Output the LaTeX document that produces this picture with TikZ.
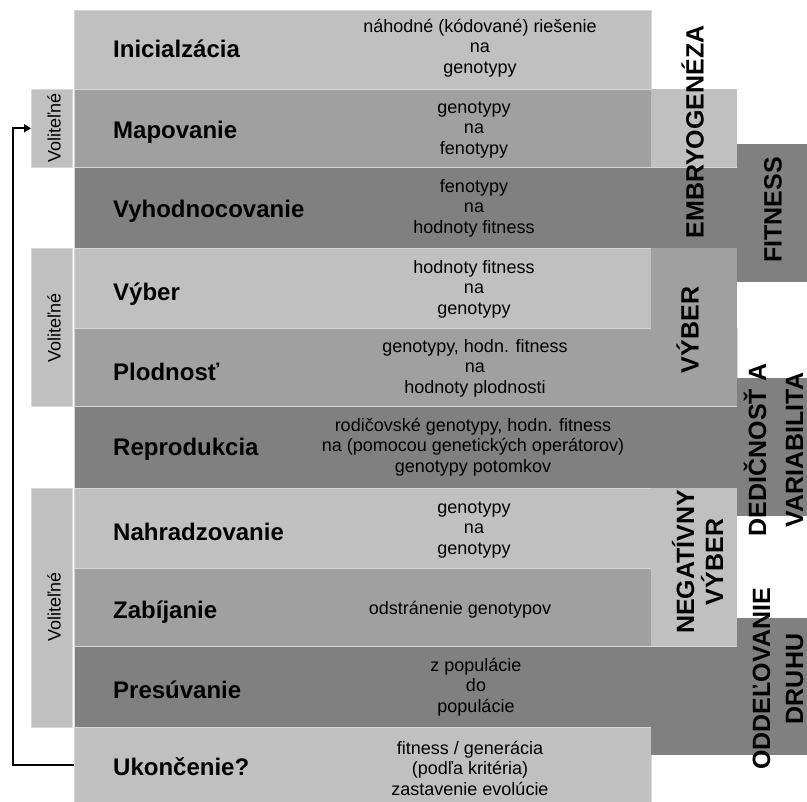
\documentclass[tikz,border=0pt]{standalone}
\usepackage{fontspec}
\setmainfont{Liberation Sans}
\usetikzlibrary{arrows.meta}
\definecolor{RowLight}{HTML}{C0C0C0}
\definecolor{RowMid}{HTML}{A0A0A0}
\definecolor{RowDark}{HTML}{808080}
\definecolor{RowEdge}{HTML}{D8D8D8}

\begin{document}
\begin{tikzpicture}[x=1pt, y=-1pt,
    band/.style={rectangle, anchor=north west, inner sep=0pt,
                 draw=RowEdge, line width=0.6pt},
    shortband/.style={band, minimum width=577pt},
    longband/.style={band, minimum width=663pt},
    colbox/.style={rectangle, anchor=north west, inner sep=0pt,
                   minimum width=86pt},
    sidebox/.style={rectangle, anchor=north west, inner sep=0pt,
                    fill=RowDark, minimum width=70pt},
    optbox/.style={rectangle, anchor=north west, inner sep=0pt, fill=RowLight,
                   draw=RowEdge, line width=0.6pt, minimum width=41pt},
    steplabel/.style={anchor=west, inner sep=0pt, text height=17pt, text depth=0pt,
                      font=\fontsize{24}{27}\selectfont\bfseries},
    desc/.style={align=center, inner sep=0pt, font=\fontsize{18}{20.5}\selectfont},
    optlabel/.style={rotate=90, inner sep=0pt, text height=13pt, text depth=0pt,
                     font=\fontsize{18}{20}\selectfont},
    grouplabel/.style={rotate=90, align=center, inner sep=0pt, text height=17pt,
                       text depth=0pt, font=\fontsize{25}{29}\selectfont\bfseries},
    grouplabeltwo/.style={rotate=90, align=center, inner sep=0pt},
    loop/.style={-{Triangle[length=7pt,width=8pt]}, line width=2.2pt}
  ]
    \useasboundingbox (0,0) rectangle (807,802);

    % rows
    \node[shortband, fill=RowLight, minimum height=79pt] (ini) at (74,10) {};
    \node[shortband, fill=RowMid, minimum height=78pt] (map) at (74,89) {};
    \node[longband, fill=RowDark, minimum height=81pt] (vyh) at (74,167) {};
    \node[shortband, fill=RowLight, minimum height=80pt] (vyb) at (74,248) {};
    \node[longband, fill=RowMid, minimum height=78pt] (plod) at (74,328) {};
    \node[longband, fill=RowDark, minimum height=82pt] (rep) at (74,406) {};
    \node[shortband, fill=RowLight, minimum height=80pt] (nah) at (74,488) {};
    \node[shortband, fill=RowMid, minimum height=78pt] (zab) at (74,568) {};
    \node[longband, fill=RowDark, minimum height=81pt] (pres) at (74,646) {};
    \node[shortband, fill=RowLight, minimum height=75pt] (ukon) at (74,727) {};

    % group columns
    \node[colbox, fill=RowLight, minimum height=78pt] (embryoBox) at (651,89) {};
    \node[colbox, fill=RowMid, minimum height=158pt] (vyberBox) at (651,248) {};
    \node[colbox, fill=RowLight, minimum height=158pt] (negBox) at (651,488) {};
    \node[sidebox, minimum width=156pt, minimum height=28pt] (presExt) at (651,727) {};
    \node[sidebox, minimum height=138pt] (fitBox) at (737,144) {};
    \node[sidebox, minimum height=138pt] (dedBox) at (737,378) {};
    \node[sidebox, minimum height=137pt] (oddBox) at (737,618) {};

    % optional blocks
    \node[optbox, minimum height=78pt] (opt1) at (31,89) {};
    \node[optbox, minimum height=158pt] (opt2) at (31,248) {};
    \node[optbox, minimum height=239pt] (opt3) at (31,488) {};
    \node[optlabel] (opt1L) at (54,128) {Voliteľné};
    \node[optlabel] (opt2L) at (54,328) {Voliteľné};
    \node[optlabel] (opt3L) at (54,607) {Voliteľné};

    % step names
    \node[steplabel] (iniL) at (113,49) {Inicialzácia};
    \node[steplabel] (mapL) at (113,130) {Mapovanie};
    \node[steplabel] (vyhL) at (113,209) {Vyhodnocovanie};
    \node[steplabel] (vybL) at (113,292) {Výber};
    \node[steplabel] (plodL) at (113,372) {Plodnosť};
    \node[steplabel] (repL) at (113,447) {Reprodukcia};
    \node[steplabel] (nahL) at (113,532) {Nahradzovanie};
    \node[steplabel] (zabL) at (113,610) {Zabíjanie};
    \node[steplabel] (presL) at (113,690) {Presúvanie};
    \node[steplabel] (ukonL) at (113,767) {Ukončenie?};

    % what each step maps
    \node[desc] (iniD) at (480,48) {náhodné (kódované) riešenie\\na\\genotypy};
    \node[desc] (mapD) at (474,130) {genotypy\\na\\fenotypy};
    \node[desc] (vyhD) at (474,208) {fenotypy\\na\\hodnoty fitness};
    \node[desc] (vybD) at (474,289) {hodnoty fitness\\na\\genotypy};
    \node[desc] (plodD) at (475,368) {genotypy, hodn. fitness\\na\\hodnoty plodnosti};
    \node[desc] (repD) at (473,447) {rodičovské genotypy, hodn. fitness\\na (pomocou genetických operátorov)\\genotypy potomkov};
    \node[desc] (nahD) at (474,530) {genotypy\\na\\genotypy};
    \node[desc] (zabD) at (460,610) {odstránenie genotypov};
    \node[desc] (presD) at (476,687) {z populácie\\do\\populácie};
    \node[desc] (ukonD) at (470,768) {fitness / generácia\\(podľa kritéria)\\zastavenie evolúcie};

    % group names
    \node[grouplabel] (embryoL) at (695,132) {EMBRYOGENÉZA};
    \node[grouplabel] (fitL) at (773,210) {FITNESS};
    \node[grouplabel] (vyberL) at (690,330) {VÝBER};
    \node[grouplabeltwo, font=\fontsize{25}{37}\selectfont\bfseries] (dedL) at (773.5,450) {DEDIČNOSŤ A\\VARIABILITA};
    \node[grouplabeltwo, font=\fontsize{25}{29}\selectfont\bfseries] (negL) at (697.5,562) {NEGATÍVNY\\VÝBER};
    \node[grouplabeltwo, font=\fontsize{25}{33}\selectfont\bfseries] (oddL) at (778,679) {ODDEĽOVANIE\\DRUHU};

    % back to the start
    \draw[loop] (ukon.west) -- ++(-61,0) |- (opt1.west);
\end{tikzpicture}
\end{document}
